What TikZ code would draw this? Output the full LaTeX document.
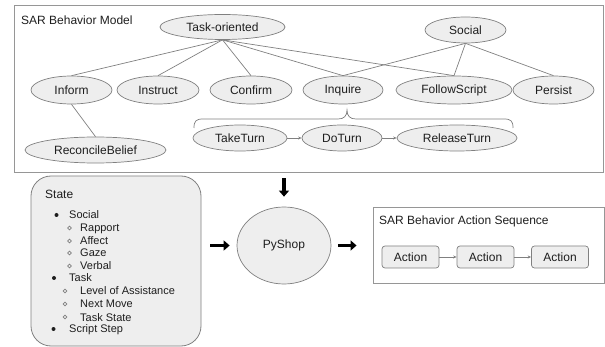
\documentclass[tikz,border=0pt]{standalone}
\usepackage{fontspec}
\setmainfont{Liberation Sans}
\usetikzlibrary{shapes.geometric,arrows.meta}
\definecolor{edge}{HTML}{808080}
\definecolor{boxline}{HTML}{969696}
\definecolor{shade}{HTML}{EEEEEE}
\definecolor{ink}{HTML}{1E1E1E}
\tikzset{
  frame/.style={draw=boxline, line width=0.9pt, inner sep=0pt},
  oval/.style={ellipse, draw=edge, fill=shade, line width=0.7pt, inner sep=0pt,
    font=\fontsize{12}{14}\selectfont, text=ink},
  link/.style={draw=edge, line width=0.7pt},
  flow/.style={draw=edge, line width=0.7pt, -{Stealth[length=3.5pt,width=3pt]}},
  bigarrow/.style={draw=black, line width=3.8pt, -{Triangle[length=6pt,width=10pt]}},
  heading/.style={anchor=base west, inner sep=0pt, font=\fontsize{12}{14}\selectfont, text=ink},
  item/.style={anchor=base west, inner sep=0pt, font=\fontsize{11}{13}\selectfont, text=ink},
  actionbox/.style={draw=edge, fill=shade, rounded corners=3pt, line width=0.7pt,
    minimum width=57pt, minimum height=22pt, inner sep=0pt,
    font=\fontsize{12}{14}\selectfont, text=ink},
}
\begin{document}
\begin{tikzpicture}[x=1pt, y=-1pt]
\useasboundingbox (0,0) rectangle (605,347);

% ---- behaviour model frame ----
\node[frame, minimum width=589pt, minimum height=167pt] (model) at (308.5,88.5) {};
\node[heading] (modeltitle) at (21,24.3) {SAR Behavior Model};

% parent behaviours
\node[oval, minimum width=125pt, minimum height=25pt] (taskor) at (222.5,27) {Task-oriented};
\node[oval, minimum width=81pt, minimum height=26pt] (social) at (465.5,30) {Social};

% behaviour row
\node[oval, minimum width=81pt, minimum height=28pt] (inform) at (71.5,90) {Inform};
\node[oval, minimum width=82pt, minimum height=28pt] (instruct) at (158,90) {Instruct};
\node[oval, minimum width=82pt, minimum height=28pt] (confirm) at (251,90) {Confirm};
\node[oval, minimum width=80pt, minimum height=28pt] (inquire) at (343,90) {Inquire};
\node[oval, minimum width=116pt, minimum height=28pt] (follow) at (454,90) {FollowScript};
\node[oval, minimum width=81pt, minimum height=28pt] (persist) at (553.5,90) {Persist};

% sub behaviours
\node[oval, minimum width=141pt, minimum height=26pt] (reconcile) at (95.5,150) {ReconcileBelief};
\node[oval, minimum width=94pt, minimum height=26pt] (taketurn) at (240,138) {TakeTurn};
\node[oval, minimum width=80pt, minimum height=26pt] (doturn) at (342,138) {DoTurn};
\node[oval, minimum width=120pt, minimum height=26pt] (release) at (457,138) {ReleaseTurn};

% hierarchy links
\foreach \child in {inform,instruct,confirm,inquire,follow}
  \draw[link] (taskor.south) -- (\child.north);
\foreach \child in {inquire,follow,persist}
  \draw[link] (social.south) -- (\child.north);
\draw[link] (inform.south) -- (reconcile.north);

% turn sequence
\draw[flow] (taketurn) -- (doturn);
\draw[flow] (doturn) -- (release);

% brace grouping the turn sequence under Inquire
\draw[link] (194,128) .. controls (194,121) and (196,119) .. (203,119) -- (338,119)
  .. controls (344,119) and (347,116) .. (347,110)
  .. controls (347,116) and (350,119) .. (356,119) -- (504,119)
  .. controls (511,119) and (513,121) .. (513,128);

% ---- state panel ----
\node[draw=edge, fill=shade, line width=0.8pt, rounded corners=20pt,
      minimum width=170pt, minimum height=170pt, inner sep=0pt] (state) at (116,261) {};
\node[heading] (statetitle) at (45,198.3) {State};

\node[item] (i1) at (69,219) {Social};
\node[item] (i2) at (80,232) {Rapport};
\node[item] (i3) at (80,245) {Affect};
\node[item] (i4) at (80,257) {Gaze};
\node[item] (i5) at (80,270) {Verbal};
\node[item] (i6) at (69,282) {Task};
\node[item] (i7) at (80,295) {Level of Assistance};
\node[item] (i8) at (80,308) {Next Move};
\node[item] (i9) at (80,321) {Task State};
\node[item] (i10) at (69,333) {Script Step};

% list markers
\fill[ink] (56.5,215) circle (2.0);
\fill[ink] (54,278) circle (2.0);
\fill[ink] (53.5,329) circle (2.0);
\foreach \yy in {228,241,253,266}
  \draw[edge, line width=0.6pt] (69.5,\yy) circle (1.9);
\foreach \yy in {291,304,317}
  \draw[edge, line width=0.6pt] (65,\yy) circle (1.9);

% ---- planner ----
\node[ellipse, draw=edge, fill=shade, line width=0.7pt, minimum width=94pt, minimum height=77pt,
      inner sep=0pt, font=\fontsize{12}{14}\selectfont, text=ink] (pyshop) at (284,245.5) {PyShop};

% ---- action sequence ----
\node[frame, minimum width=231pt, minimum height=76pt] (seq) at (488.5,245) {};
\node[heading] (seqtitle) at (379,224.3) {SAR Behavior Action Sequence};
\node[actionbox] (a1) at (410.5,257) {Action};
\node[actionbox] (a2) at (485.5,257) {Action};
\node[actionbox] (a3) at (560,257) {Action};
\draw[flow] (a1) -- (a2);
\draw[flow] (a2) -- (a3);

% ---- data flow arrows ----
\draw[bigarrow] ([yshift=-6pt]model.south -| pyshop.north) -- ([yshift=10pt]pyshop.north);
\draw[bigarrow] ([xshift=9pt]state.east |- pyshop.west) -- ([xshift=-7pt]pyshop.west);
\draw[bigarrow] ([xshift=7pt]pyshop.east) -- ([xshift=-16pt]seq.west |- pyshop.east);
\end{tikzpicture}
\end{document}
